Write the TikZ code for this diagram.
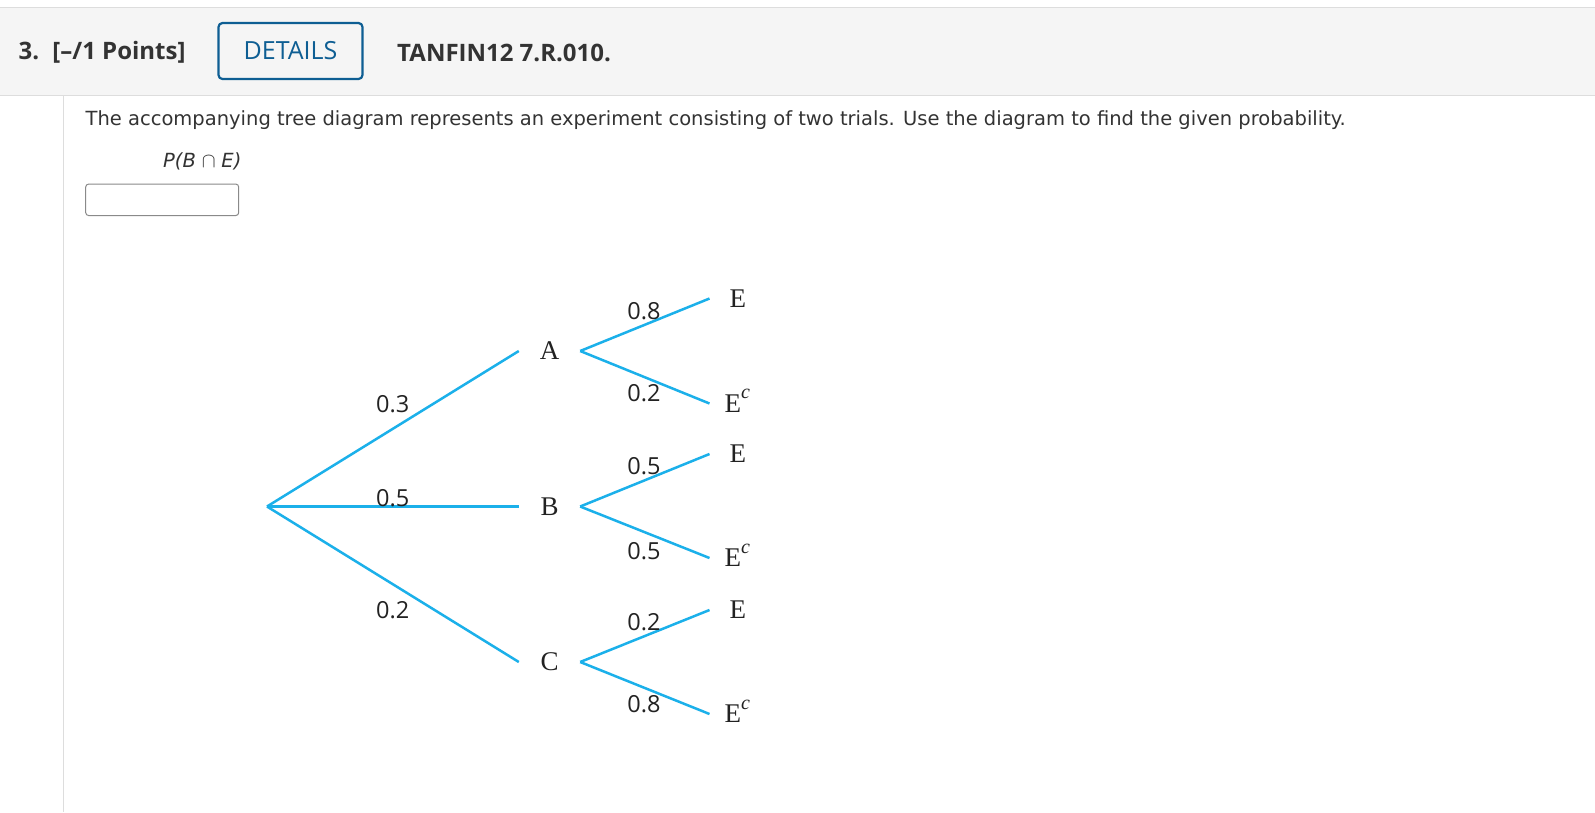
\documentclass[tikz,border=0pt]{standalone}
\usepackage{fontspec}
\setmainfont{DejaVu Sans}
\newfontfamily\qfont{DejaVu Sans}
\newfontfamily\hdrfont{Open Sans}
\newfontfamily\treeserif{Liberation Serif}
\newfontfamily\treesans{Open Sans}
\definecolor{txt}{HTML}{333333}
\definecolor{bandbg}{HTML}{F5F5F5}
\definecolor{rulegray}{HTML}{DDDDDD}
\definecolor{btnblue}{HTML}{0E5E93}
\definecolor{treeblue}{HTML}{1BB0EA}
\definecolor{treetxt}{HTML}{222222}
\definecolor{boxgray}{HTML}{8A8A8A}
\tikzset{
  hdr/.style={anchor=west,inner sep=0pt,text=txt,font=\hdrfont\fontsize{24}{28}\selectfont\bfseries},
  qtext/.style={anchor=west,inner sep=0pt,text=txt,font=\qfont\fontsize{19.5}{23}\selectfont},
  branch/.style={draw=treeblue,line width=2.5pt},
  letter/.style={inner sep=0pt,minimum width=61pt,minimum height=20pt,text=treetxt,font=\treeserif\fontsize{27}{30}\selectfont},
  leafE/.style={anchor=west,inner ysep=0pt,inner xsep=20pt,text=treetxt,font=\treeserif\fontsize{27}{30}\selectfont},
  leafEc/.style={anchor=west,inner ysep=0pt,inner xsep=15pt,text=treetxt,font=\treeserif\fontsize{27}{30}\selectfont},
  prob/.style={inner sep=0pt,text=treetxt,font=\treesans\fontsize{23.5}{27}\selectfont},
}
\newcommand{\Ecomp}{E\smash{\raisebox{0.5em}{\fontsize{20}{20}\selectfont\itshape c}}}
\begin{document}
\begin{tikzpicture}[x=1pt,y=-1pt]
\useasboundingbox (0,0) rectangle (1595,812);
\fill[white] (0,0) rectangle (1595,812);
% header band
\fill[bandbg] (0,7) rectangle (1595,95);
\draw[rulegray,line width=1pt] (0,7) -- (1595,7);
\draw[rulegray,line width=1pt] (0,95) -- (1595,95);
\draw[rulegray,line width=1pt] (63,95) -- (63,812);
\node[hdr] (num) at (18.5,52.5) {3.\hspace{0.55em}[–/1 Points]};
\node[draw=btnblue,line width=2.2pt,rounded corners=4pt,minimum width=144pt,minimum height=56pt,inner sep=0pt,text=btnblue,font=\hdrfont\fontsize{25}{28}\selectfont] (details) at (290.5,51) {DETAILS};
\node[hdr] (code) at (397,52.5) {TANFIN12 7.R.010.};
% question
\node[qtext] (q) at (85.5,120.5) {The accompanying tree diagram represents an experiment consisting of two trials. Use the diagram to find the given probability.};
\node[qtext,font=\qfont\fontsize{19.5}{23}\selectfont\itshape] (pbe) at (163,161) {P(B\hspace{0.3em}{\upshape$\cap$}\hspace{0.3em}E)};
\node[draw=boxgray,line width=1pt,rounded corners=3pt,minimum width=153pt,minimum height=31.5pt,inner sep=0pt] (answer) at (162.2,199.8) {};
% tree
\coordinate (root) at (267,506.5);
\node[letter] (A) at (549.5,351) {A};
\node[letter] (B) at (549.5,506.5) {B};
\node[letter] (C) at (549.5,662) {C};
\node[leafE] (AE) at (709.5,298.5) {E};
\node[leafEc] (AEc) at (709.5,403.5) {\Ecomp};
\node[leafE] (BE) at (709.5,454) {E};
\node[leafEc] (BEc) at (709.5,558) {\Ecomp};
\node[leafE] (CE) at (709.5,610) {E};
\node[leafEc] (CEc) at (709.5,714) {\Ecomp};
\draw[branch] (root) -- (A.west);
\draw[branch] (root) -- (B.west);
\draw[branch] (root) -- (C.west);
\draw[branch] (A.east) -- (AE.west);
\draw[branch] (A.east) -- (AEc.west);
\draw[branch] (B.east) -- (BE.west);
\draw[branch] (B.east) -- (BEc.west);
\draw[branch] (C.east) -- (CE.west);
\draw[branch] (C.east) -- (CEc.west);
\node[prob] (p1) at (392.7,403.8) {0.3};
\node[prob] (p2) at (392.7,498) {0.5};
\node[prob] (p3) at (392.7,610.5) {0.2};
\node[prob] (p4) at (644,311.5) {0.8};
\node[prob] (p5) at (644,393.3) {0.2};
\node[prob] (p6) at (644,466) {0.5};
\node[prob] (p7) at (644,551) {0.5};
\node[prob] (p8) at (644,622) {0.2};
\node[prob] (p9) at (644,704.5) {0.8};
\end{tikzpicture}
\end{document}
